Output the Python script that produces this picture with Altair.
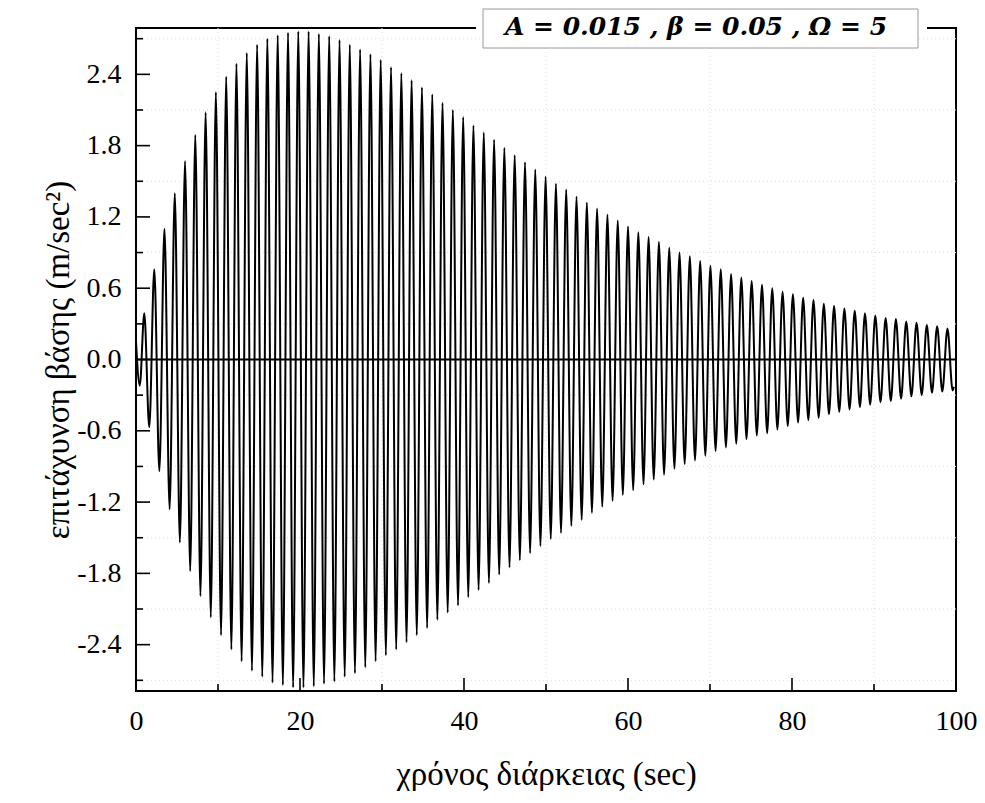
import altair as alt
import pandas as pd

# ---- data (extremes of the oscillation) ----
time_s = [0.00, 0.46, 1.01, 1.62, 2.23, 2.85, 3.47, 4.10, 4.73, 5.35, 5.98,
          6.61, 7.23, 7.86, 8.49, 9.12, 9.74, 10.37, 11.00, 11.63, 12.25,
          12.88, 13.51, 14.14, 14.77, 15.40, 16.02, 16.65, 17.28, 17.91, 18.54,
          19.16, 19.79, 20.42, 21.05, 21.68, 22.30, 22.93, 23.56, 24.19, 24.82,
          25.45, 26.07, 26.70, 27.33, 27.96, 28.59, 29.22, 29.84, 30.47, 31.10,
          31.73, 32.36, 32.99, 33.61, 34.24, 34.87, 35.50, 36.13, 36.75, 37.38,
          38.01, 38.64, 39.27, 39.90, 40.52, 41.15, 41.78, 42.41, 43.04, 43.67,
          44.29, 44.92, 45.55, 46.18, 46.81, 47.44, 48.06, 48.69, 49.32, 49.95,
          50.58, 51.21, 51.83, 52.46, 53.09, 53.72, 54.35, 54.98, 55.60, 56.23,
          56.86, 57.49, 58.12, 58.75, 59.37, 60.00, 60.63, 61.26, 61.89, 62.51,
          63.14, 63.77, 64.40, 65.03, 65.66, 66.28, 66.91, 67.54, 68.17, 68.80,
          69.43, 70.05, 70.68, 71.31, 71.94, 72.57, 73.20, 73.82, 74.45, 75.08,
          75.71, 76.34, 76.97, 77.59, 78.22, 78.85, 79.48, 80.11, 80.74, 81.36,
          81.99, 82.62, 83.25, 83.88, 84.51, 85.13, 85.76, 86.39, 87.02, 87.65,
          88.28, 88.90, 89.53, 90.16, 90.79, 91.42, 92.05, 92.67, 93.30, 93.93,
          94.56, 95.19, 95.82, 96.44, 97.07, 97.70, 98.33, 98.96, 99.59, 99.73]

accel = [0.15, -0.22, 0.39, -0.57, 0.76, -0.94, 1.10, -1.26, 1.40, -1.54, 1.67,
         -1.78, 1.89, -1.99, 2.08, -2.17, 2.25, -2.32, 2.38, -2.44, 2.49,
         -2.54, 2.58, -2.62, 2.65, -2.67, 2.70, -2.72, 2.73, -2.74, 2.75,
         -2.76, 2.76, -2.76, 2.76, -2.75, 2.74, -2.73, 2.72, -2.71, 2.69,
         -2.67, 2.65, -2.64, 2.61, -2.59, 2.57, -2.54, 2.52, -2.49, 2.46,
         -2.44, 2.41, -2.38, 2.35, -2.32, 2.29, -2.26, 2.23, -2.19, 2.16,
         -2.13, 2.10, -2.07, 2.04, -2.00, 1.97, -1.94, 1.91, -1.88, 1.85,
         -1.81, 1.78, -1.75, 1.72, -1.69, 1.66, -1.63, 1.60, -1.57, 1.54,
         -1.51, 1.48, -1.46, 1.43, -1.40, 1.37, -1.35, 1.32, -1.29, 1.27,
         -1.24, 1.22, -1.19, 1.17, -1.14, 1.12, -1.10, 1.07, -1.05, 1.03,
         -1.01, 0.99, -0.97, 0.94, -0.92, 0.90, -0.88, 0.87, -0.85, 0.83,
         -0.81, 0.79, -0.77, 0.76, -0.74, 0.72, -0.71, 0.69, -0.67, 0.66,
         -0.64, 0.63, -0.62, 0.60, -0.59, 0.57, -0.56, 0.55, -0.53, 0.52,
         -0.51, 0.50, -0.49, 0.47, -0.46, 0.45, -0.44, 0.43, -0.42, 0.41,
         -0.40, 0.39, -0.38, 0.37, -0.36, 0.35, -0.35, 0.34, -0.33, 0.32,
         -0.31, 0.31, -0.30, 0.29, -0.28, 0.28, -0.27, 0.26, -0.26, -0.23]

x_major = [0, 20, 40, 60, 80, 100]
x_minor = [10, 30, 50, 70, 90]
y_major = [-2.4, -1.8, -1.2, -0.6, 0.0, 0.6, 1.2, 1.8, 2.4]
y_minor = [-2.7, -2.1, -1.5, -0.9, -0.3, 0.3, 0.9, 1.5, 2.1, 2.7]
x_domain = [0, 100]
y_domain = [-2.79, 2.79]
zero_level = [0.0]

label_text = "A = 0.015 , β = 0.05 , Ω = 5"
x_title = "χρόνος διάρκειας (sec)"
y_title = "επιτάχυνση βάσης (m/sec²)"

# ---- layout ----
W, H = 820, 663
SERIF = "Liberation Serif"

xs = alt.Scale(domain=x_domain, nice=False, zero=False)
ys = alt.Scale(domain=y_domain, nice=False, zero=False)

signal = pd.DataFrame({"t": time_s, "a": accel})

x_axis = alt.Axis(
    values=x_major, format="d", ticks=False, tickSize=0, domain=False, grid=False,
    labelFont=SERIF, labelFontSize=28, labelPadding=16, labelColor="black",
    labelFlush=False, labelOverlap=False,
    title=x_title, titleFont=SERIF, titleFontSize=33, titleFontWeight="normal",
    titleColor="black", titleX=W / 2, titleY=93, titleBaseline="alphabetic",
    titleAlign="center",
)
y_axis = alt.Axis(
    values=y_major, ticks=False, tickSize=0, domain=False, grid=False,
    labelExpr="(datum.value < 0 ? '-' : '') + format(abs(datum.value), '.1f')",
    labelFont=SERIF, labelFontSize=28, labelPadding=15, labelColor="black",
    labelOverlap=False,
    title=y_title, titleFont=SERIF, titleFontSize=33, titleFontWeight="normal",
    titleColor="black", titleAngle=270, titleX=-68, titleY=H / 2,
    titleBaseline="alphabetic", titleAlign="center",
)

X = lambda: alt.X("t:Q", scale=xs, axis=x_axis)
Y = lambda: alt.Y("a:Q", scale=ys, axis=y_axis)

grid_y = alt.Chart(pd.DataFrame({"a": y_minor})).mark_rule(
    color="#dcdcdc", strokeWidth=1, strokeDash=[1, 3]
).encode(y=Y())

grid_x = alt.Chart(pd.DataFrame({"t": x_minor})).mark_rule(
    color="#dcdcdc", strokeWidth=1, strokeDash=[1, 3]
).encode(x=X())

line = alt.Chart(signal).mark_line(
    color="black", strokeWidth=2, interpolate="monotone"
).encode(x=X(), y=Y(), order="t:Q")

zero = alt.Chart(pd.DataFrame({"a": zero_level})).mark_rule(
    color="black", strokeWidth=2
).encode(y=Y())

y_ticks_major = alt.Chart(pd.DataFrame({"a": y_major})).mark_rule(
    color="black", strokeWidth=1.6
).encode(y=Y(), x=alt.value(0), x2=alt.value(14))

y_ticks_minor = alt.Chart(pd.DataFrame({"a": y_minor})).mark_rule(
    color="black", strokeWidth=1.6
).encode(y=Y(), x=alt.value(0), x2=alt.value(7))

x_ticks_major = alt.Chart(pd.DataFrame({"t": x_major})).mark_rule(
    color="black", strokeWidth=1.6
).encode(x=X(), y=alt.value(H), y2=alt.value(H - 13))

x_ticks_minor = alt.Chart(pd.DataFrame({"t": x_minor})).mark_rule(
    color="black", strokeWidth=1.6
).encode(x=X(), y=alt.value(H), y2=alt.value(H - 7))

one = pd.DataFrame({"k": [0]})

cover = alt.Chart(one).mark_rect(fill="white", strokeWidth=0).encode(
    x=alt.value(340), x2=alt.value(791), y=alt.value(-19), y2=alt.value(4)
)

box = alt.Chart(one).mark_rect(fill="white", stroke="#9a9a9a", strokeWidth=1).encode(
    x=alt.value(347), x2=alt.value(782), y=alt.value(-19), y2=alt.value(20)
)

label = alt.Chart(pd.DataFrame({"txt": [label_text]})).mark_text(
    font="DejaVu Serif", fontSize=25, fontWeight="bold", fontStyle="italic",
    color="black", align="center", baseline="alphabetic"
).encode(text="txt:N", x=alt.value(560), y=alt.value(7))

chart = alt.layer(
    grid_y, grid_x, line, zero,
    y_ticks_major, y_ticks_minor, x_ticks_major, x_ticks_minor,
    cover, box, label,
).properties(
    width=W, height=H,
    autosize=alt.AutoSizeParams(type="none"),
    padding={"left": 128, "top": 20, "right": 21, "bottom": 100},
).configure_view(stroke="black", strokeWidth=2)

chart.save("out.html", embed_options={"renderer": "svg", "actions": False})
